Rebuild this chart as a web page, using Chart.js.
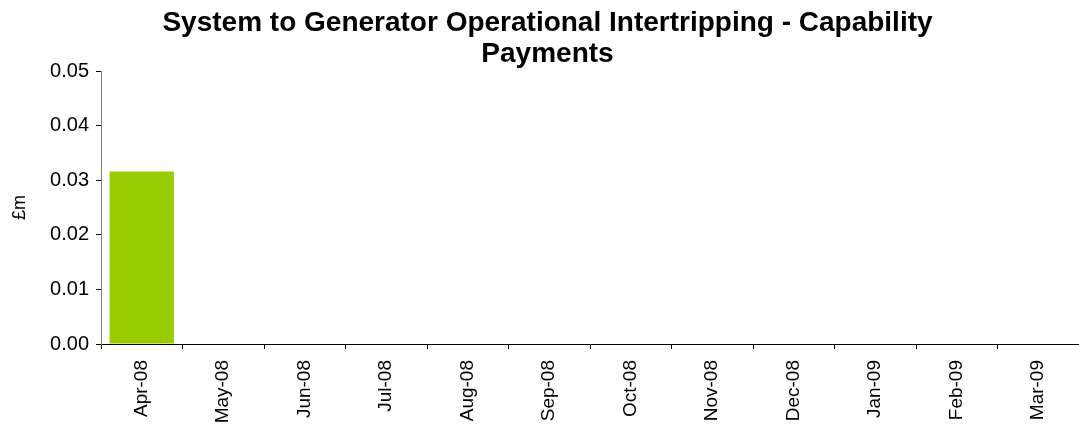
<!DOCTYPE html>
<html>
<head>
<meta charset="utf-8">
<script src="https://cdn.jsdelivr.net/npm/chart.js@4/dist/chart.umd.min.js"></script>
<style>
  body { margin: 0; background: #fff; }
</style>
</head>
<body>
<canvas id="intertripChart" width="1079" height="430"></canvas>
<script>
const months = ['Apr-08', 'May-08', 'Jun-08', 'Jul-08', 'Aug-08', 'Sep-08',
  'Oct-08', 'Nov-08', 'Dec-08', 'Jan-09', 'Feb-09', 'Mar-09'];
const payments = [0.0316, 0, 0, 0, 0, 0, 0, 0, 0, 0, 0, 0];
const titleLines = ['System to Generator Operational Intertripping - Capability', 'Payments'];
const yLabel = '£m';

const ctx = document.getElementById('intertripChart').getContext('2d');
new Chart(ctx, {
  type: 'bar',
  data: {
    labels: months,
    datasets: [{
      label: yLabel,
      data: payments,
      backgroundColor: '#99CC00',
      borderWidth: 0,
      barPercentage: 0.79,
      categoryPercentage: 1.0,
    }]
  },
  options: {
    responsive: false,
    animation: false,
    // left padding nudges the title centre right; y axis width compensates
    layout: { padding: { left: 16, right: 0, top: 0, bottom: 0 } },
    plugins: {
      legend: { display: false },
      tooltip: { enabled: false },
      title: {
        display: true,
        text: titleLines,
        color: '#000',
        font: { family: 'Liberation Sans, Arial', size: 28, weight: 'bold', lineHeight: 1.11 },
        padding: { top: 8, bottom: 1 },
      },
    },
    scales: {
      x: {
        afterFit: scale => { scale.height = 86; },
        grid: { offset: true, drawOnChartArea: false, tickLength: 5, tickColor: '#000' },
        border: { color: '#000', width: 1 },
        ticks: {
          color: '#000',
          maxRotation: 90,
          minRotation: 90,
          padding: 11,
          autoSkip: false,
          font: { family: 'Liberation Sans, Arial', size: 19 },
        },
      },
      y: {
        min: 0,
        max: 0.05,
        afterFit: scale => { scale.width = 85; },
        grid: { drawOnChartArea: false, tickLength: 5, tickColor: '#000' },
        border: { color: '#808080', width: 1 },
        ticks: {
          stepSize: 0.01,
          color: '#000',
          padding: 7,
          font: { family: 'Liberation Sans, Arial', size: 20 },
          callback: v => v.toFixed(2),
        },
        title: {
          display: true,
          text: yLabel,
          color: '#000',
          padding: { top: -7, bottom: 0 },
          font: { family: 'Liberation Sans, Arial', size: 18 },
        },
      },
    },
  },
});
</script>
</body>
</html>
